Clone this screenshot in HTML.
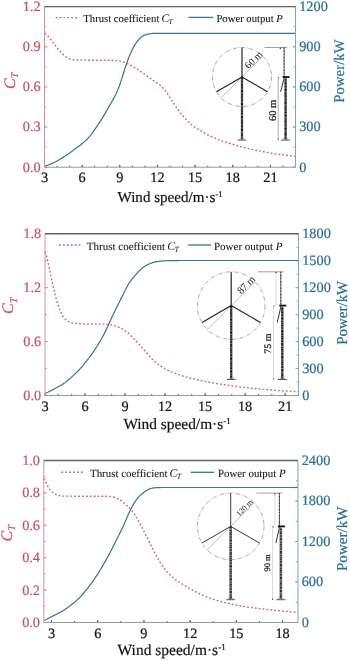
<!DOCTYPE html>
<html><head><meta charset="utf-8"><style>
html,body{margin:0;padding:0;background:#fff;}
body{width:350px;height:661px;overflow:hidden;}
svg{display:block;will-change:transform;filter:blur(0.3px);}
text{font-family:"Liberation Serif",serif;text-rendering:geometricPrecision;}
.b{stroke-width:0.25px;}
</style></head><body>
<svg width="350" height="661" viewBox="0 0 350 661">
<rect width="350" height="661" fill="#fff"/>
<line x1="44.50" y1="167.2" x2="44.50" y2="165.7" stroke="#4a4a4a" stroke-width="0.9"/>
<line x1="57.05" y1="167.2" x2="57.05" y2="165.7" stroke="#4a4a4a" stroke-width="0.9"/>
<line x1="69.60" y1="167.2" x2="69.60" y2="165.7" stroke="#4a4a4a" stroke-width="0.9"/>
<line x1="82.15" y1="167.2" x2="82.15" y2="165.7" stroke="#4a4a4a" stroke-width="0.9"/>
<line x1="94.70" y1="167.2" x2="94.70" y2="165.7" stroke="#4a4a4a" stroke-width="0.9"/>
<line x1="107.25" y1="167.2" x2="107.25" y2="165.7" stroke="#4a4a4a" stroke-width="0.9"/>
<line x1="119.80" y1="167.2" x2="119.80" y2="165.7" stroke="#4a4a4a" stroke-width="0.9"/>
<line x1="132.35" y1="167.2" x2="132.35" y2="165.7" stroke="#4a4a4a" stroke-width="0.9"/>
<line x1="144.90" y1="167.2" x2="144.90" y2="165.7" stroke="#4a4a4a" stroke-width="0.9"/>
<line x1="157.45" y1="167.2" x2="157.45" y2="165.7" stroke="#4a4a4a" stroke-width="0.9"/>
<line x1="170.00" y1="167.2" x2="170.00" y2="165.7" stroke="#4a4a4a" stroke-width="0.9"/>
<line x1="182.55" y1="167.2" x2="182.55" y2="165.7" stroke="#4a4a4a" stroke-width="0.9"/>
<line x1="195.10" y1="167.2" x2="195.10" y2="165.7" stroke="#4a4a4a" stroke-width="0.9"/>
<line x1="207.65" y1="167.2" x2="207.65" y2="165.7" stroke="#4a4a4a" stroke-width="0.9"/>
<line x1="220.20" y1="167.2" x2="220.20" y2="165.7" stroke="#4a4a4a" stroke-width="0.9"/>
<line x1="232.75" y1="167.2" x2="232.75" y2="165.7" stroke="#4a4a4a" stroke-width="0.9"/>
<line x1="245.30" y1="167.2" x2="245.30" y2="165.7" stroke="#4a4a4a" stroke-width="0.9"/>
<line x1="257.85" y1="167.2" x2="257.85" y2="165.7" stroke="#4a4a4a" stroke-width="0.9"/>
<line x1="270.40" y1="167.2" x2="270.40" y2="165.7" stroke="#4a4a4a" stroke-width="0.9"/>
<line x1="282.95" y1="167.2" x2="282.95" y2="165.7" stroke="#4a4a4a" stroke-width="0.9"/>
<line x1="295.50" y1="167.2" x2="295.50" y2="165.7" stroke="#4a4a4a" stroke-width="0.9"/>
<line x1="44.50" y1="167.2" x2="44.50" y2="164.7" stroke="#4a4a4a" stroke-width="0.9"/>
<text x="44.50" y="182.2" font-size="14.3" fill="#111" stroke="#111" stroke-width="0.2" text-anchor="middle">3</text>
<line x1="82.15" y1="167.2" x2="82.15" y2="164.7" stroke="#4a4a4a" stroke-width="0.9"/>
<text x="82.15" y="182.2" font-size="14.3" fill="#111" stroke="#111" stroke-width="0.2" text-anchor="middle">6</text>
<line x1="119.80" y1="167.2" x2="119.80" y2="164.7" stroke="#4a4a4a" stroke-width="0.9"/>
<text x="119.80" y="182.2" font-size="14.3" fill="#111" stroke="#111" stroke-width="0.2" text-anchor="middle">9</text>
<line x1="157.45" y1="167.2" x2="157.45" y2="164.7" stroke="#4a4a4a" stroke-width="0.9"/>
<text x="157.45" y="182.2" font-size="14.3" fill="#111" stroke="#111" stroke-width="0.2" text-anchor="middle">12</text>
<line x1="195.10" y1="167.2" x2="195.10" y2="164.7" stroke="#4a4a4a" stroke-width="0.9"/>
<text x="195.10" y="182.2" font-size="14.3" fill="#111" stroke="#111" stroke-width="0.2" text-anchor="middle">15</text>
<line x1="232.75" y1="167.2" x2="232.75" y2="164.7" stroke="#4a4a4a" stroke-width="0.9"/>
<text x="232.75" y="182.2" font-size="14.3" fill="#111" stroke="#111" stroke-width="0.2" text-anchor="middle">18</text>
<line x1="270.40" y1="167.2" x2="270.40" y2="164.7" stroke="#4a4a4a" stroke-width="0.9"/>
<text x="270.40" y="182.2" font-size="14.3" fill="#111" stroke="#111" stroke-width="0.2" text-anchor="middle">21</text>
<line x1="44.5" y1="167.20" x2="46.5" y2="167.20" stroke="#d68e9e" stroke-width="0.9"/>
<line x1="44.5" y1="147.12" x2="46.5" y2="147.12" stroke="#d68e9e" stroke-width="0.9"/>
<line x1="44.5" y1="127.05" x2="46.5" y2="127.05" stroke="#d68e9e" stroke-width="0.9"/>
<line x1="44.5" y1="106.97" x2="46.5" y2="106.97" stroke="#d68e9e" stroke-width="0.9"/>
<line x1="44.5" y1="86.90" x2="46.5" y2="86.90" stroke="#d68e9e" stroke-width="0.9"/>
<line x1="44.5" y1="66.82" x2="46.5" y2="66.82" stroke="#d68e9e" stroke-width="0.9"/>
<line x1="44.5" y1="46.75" x2="46.5" y2="46.75" stroke="#d68e9e" stroke-width="0.9"/>
<line x1="44.5" y1="26.67" x2="46.5" y2="26.67" stroke="#d68e9e" stroke-width="0.9"/>
<line x1="44.5" y1="6.60" x2="46.5" y2="6.60" stroke="#d68e9e" stroke-width="0.9"/>
<line x1="44.5" y1="167.20" x2="47.5" y2="167.20" stroke="#d68e9e" stroke-width="0.9"/>
<text x="40.70" y="171.60" font-size="14.3" fill="#c65262" stroke="#c65262" stroke-width="0.2" text-anchor="end">0.0</text>
<line x1="44.5" y1="127.05" x2="47.5" y2="127.05" stroke="#d68e9e" stroke-width="0.9"/>
<text x="40.70" y="131.45" font-size="14.3" fill="#c65262" stroke="#c65262" stroke-width="0.2" text-anchor="end">0.3</text>
<line x1="44.5" y1="86.90" x2="47.5" y2="86.90" stroke="#d68e9e" stroke-width="0.9"/>
<text x="40.70" y="91.30" font-size="14.3" fill="#c65262" stroke="#c65262" stroke-width="0.2" text-anchor="end">0.6</text>
<line x1="44.5" y1="46.75" x2="47.5" y2="46.75" stroke="#d68e9e" stroke-width="0.9"/>
<text x="40.70" y="51.15" font-size="14.3" fill="#c65262" stroke="#c65262" stroke-width="0.2" text-anchor="end">0.9</text>
<line x1="44.5" y1="6.60" x2="47.5" y2="6.60" stroke="#d68e9e" stroke-width="0.9"/>
<text x="40.70" y="11.00" font-size="14.3" fill="#c65262" stroke="#c65262" stroke-width="0.2" text-anchor="end">1.2</text>
<line x1="295.5" y1="167.20" x2="293.5" y2="167.20" stroke="#7fa3bd" stroke-width="0.9"/>
<line x1="295.5" y1="147.12" x2="293.5" y2="147.12" stroke="#7fa3bd" stroke-width="0.9"/>
<line x1="295.5" y1="127.05" x2="293.5" y2="127.05" stroke="#7fa3bd" stroke-width="0.9"/>
<line x1="295.5" y1="106.97" x2="293.5" y2="106.97" stroke="#7fa3bd" stroke-width="0.9"/>
<line x1="295.5" y1="86.90" x2="293.5" y2="86.90" stroke="#7fa3bd" stroke-width="0.9"/>
<line x1="295.5" y1="66.82" x2="293.5" y2="66.82" stroke="#7fa3bd" stroke-width="0.9"/>
<line x1="295.5" y1="46.75" x2="293.5" y2="46.75" stroke="#7fa3bd" stroke-width="0.9"/>
<line x1="295.5" y1="26.67" x2="293.5" y2="26.67" stroke="#7fa3bd" stroke-width="0.9"/>
<line x1="295.5" y1="6.60" x2="293.5" y2="6.60" stroke="#7fa3bd" stroke-width="0.9"/>
<line x1="295.5" y1="167.20" x2="292.5" y2="167.20" stroke="#7fa3bd" stroke-width="0.9"/>
<text x="299.20" y="171.60" font-size="14.3" fill="#2a6d93" stroke="#2a6d93" stroke-width="0.2">0</text>
<line x1="295.5" y1="127.05" x2="292.5" y2="127.05" stroke="#7fa3bd" stroke-width="0.9"/>
<text x="299.20" y="131.45" font-size="14.3" fill="#2a6d93" stroke="#2a6d93" stroke-width="0.2">300</text>
<line x1="295.5" y1="86.90" x2="292.5" y2="86.90" stroke="#7fa3bd" stroke-width="0.9"/>
<text x="299.20" y="91.30" font-size="14.3" fill="#2a6d93" stroke="#2a6d93" stroke-width="0.2">600</text>
<line x1="295.5" y1="46.75" x2="292.5" y2="46.75" stroke="#7fa3bd" stroke-width="0.9"/>
<text x="299.20" y="51.15" font-size="14.3" fill="#2a6d93" stroke="#2a6d93" stroke-width="0.2">900</text>
<line x1="295.5" y1="6.60" x2="292.5" y2="6.60" stroke="#7fa3bd" stroke-width="0.9"/>
<text x="299.20" y="11.00" font-size="14.3" fill="#2a6d93" stroke="#2a6d93" stroke-width="0.2">1200</text>
<path d="M44.50,166.06 L45.34,165.88 L46.18,165.67 L47.02,165.42 L47.86,165.13 L48.70,164.80 L49.54,164.47 L50.38,164.13 L51.22,163.77 L52.06,163.41 L52.89,163.03 L53.73,162.64 L54.57,162.24 L55.41,161.81 L56.25,161.37 L57.09,160.90 L57.93,160.42 L58.77,159.93 L59.61,159.43 L60.45,158.92 L61.29,158.41 L62.13,157.89 L62.97,157.37 L63.81,156.84 L64.65,156.31 L65.49,155.78 L66.33,155.24 L67.17,154.69 L68.01,154.13 L68.84,153.55 L69.68,152.96 L70.52,152.36 L71.36,151.74 L72.20,151.11 L73.04,150.47 L73.88,149.84 L74.72,149.21 L75.56,148.58 L76.40,147.97 L77.24,147.36 L78.08,146.75 L78.92,146.15 L79.76,145.53 L80.60,144.90 L81.44,144.25 L82.28,143.57 L83.12,142.87 L83.95,142.13 L84.79,141.36 L85.63,140.57 L86.47,139.74 L87.31,138.89 L88.15,138.00 L88.99,137.07 L89.83,136.10 L90.67,135.08 L91.51,134.02 L92.35,132.92 L93.19,131.78 L94.03,130.61 L94.87,129.42 L95.71,128.19 L96.55,126.95 L97.39,125.70 L98.23,124.44 L99.07,123.17 L99.90,121.88 L100.74,120.57 L101.58,119.24 L102.42,117.88 L103.26,116.49 L104.10,115.07 L104.94,113.63 L105.78,112.17 L106.62,110.70 L107.46,109.23 L108.30,107.77 L109.14,106.31 L109.98,104.86 L110.82,103.43 L111.66,102.00 L112.50,100.56 L113.34,99.09 L114.18,97.56 L115.02,95.94 L115.85,94.25 L116.69,92.48 L117.53,90.60 L118.37,88.55 L119.21,86.31 L120.05,83.93 L120.89,81.42 L121.73,78.83 L122.57,76.18 L123.41,73.48 L124.25,70.76 L125.09,68.06 L125.93,65.45 L126.77,62.97 L127.61,60.61 L128.45,58.38 L129.29,56.27 L130.13,54.27 L130.96,52.39 L131.80,50.61 L132.64,48.94 L133.48,47.37 L134.32,45.89 L135.16,44.49 L136.00,43.17 L136.84,41.93 L137.68,40.80 L138.52,39.77 L139.36,38.85 L140.20,38.01 L141.04,37.27 L141.88,36.63 L142.72,36.08 L143.56,35.62 L144.40,35.23 L145.24,34.91 L146.08,34.63 L146.91,34.38 L147.75,34.17 L148.59,34.00 L149.43,33.85 L150.27,33.72 L151.11,33.62 L151.95,33.54 L152.79,33.47 L153.63,33.42 L154.47,33.38 L155.31,33.35 L156.15,33.32 L156.99,33.31 L157.83,33.30 L158.67,33.30 L159.51,33.30 L160.35,33.30 L161.19,33.30 L162.03,33.30 L162.86,33.30 L163.70,33.30 L164.54,33.30 L165.38,33.30 L166.22,33.30 L167.06,33.30 L167.90,33.30 L168.74,33.30 L169.58,33.30 L170.42,33.30 L171.26,33.30 L172.10,33.30 L172.94,33.30 L173.78,33.30 L174.62,33.30 L175.46,33.30 L176.30,33.30 L177.14,33.30 L177.97,33.30 L178.81,33.30 L179.65,33.30 L180.49,33.30 L181.33,33.30 L182.17,33.30 L183.01,33.30 L183.85,33.30 L184.69,33.30 L185.53,33.30 L186.37,33.30 L187.21,33.30 L188.05,33.30 L188.89,33.30 L189.73,33.30 L190.57,33.30 L191.41,33.30 L192.25,33.30 L193.09,33.30 L193.92,33.30 L194.76,33.30 L195.60,33.30 L196.44,33.30 L197.28,33.30 L198.12,33.30 L198.96,33.30 L199.80,33.30 L200.64,33.30 L201.48,33.30 L202.32,33.30 L203.16,33.30 L204.00,33.30 L204.84,33.30 L205.68,33.30 L206.52,33.30 L207.36,33.30 L208.20,33.30 L209.04,33.30 L209.87,33.30 L210.71,33.30 L211.55,33.30 L212.39,33.30 L213.23,33.30 L214.07,33.30 L214.91,33.30 L215.75,33.30 L216.59,33.30 L217.43,33.30 L218.27,33.30 L219.11,33.30 L219.95,33.30 L220.79,33.30 L221.63,33.30 L222.47,33.30 L223.31,33.30 L224.15,33.30 L224.98,33.30 L225.82,33.30 L226.66,33.30 L227.50,33.30 L228.34,33.30 L229.18,33.30 L230.02,33.30 L230.86,33.30 L231.70,33.30 L232.54,33.30 L233.38,33.30 L234.22,33.30 L235.06,33.30 L235.90,33.30 L236.74,33.30 L237.58,33.30 L238.42,33.30 L239.26,33.30 L240.10,33.30 L240.93,33.30 L241.77,33.30 L242.61,33.30 L243.45,33.30 L244.29,33.30 L245.13,33.30 L245.97,33.30 L246.81,33.30 L247.65,33.30 L248.49,33.30 L249.33,33.30 L250.17,33.30 L251.01,33.30 L251.85,33.30 L252.69,33.30 L253.53,33.30 L254.37,33.30 L255.21,33.30 L256.05,33.30 L256.88,33.30 L257.72,33.30 L258.56,33.30 L259.40,33.30 L260.24,33.30 L261.08,33.30 L261.92,33.30 L262.76,33.30 L263.60,33.30 L264.44,33.30 L265.28,33.30 L266.12,33.30 L266.96,33.30 L267.80,33.30 L268.64,33.30 L269.48,33.30 L270.32,33.30 L271.16,33.30 L271.99,33.30 L272.83,33.30 L273.67,33.30 L274.51,33.30 L275.35,33.30 L276.19,33.30 L277.03,33.30 L277.87,33.30 L278.71,33.30 L279.55,33.30 L280.39,33.30 L281.23,33.30 L282.07,33.30 L282.91,33.30 L283.75,33.30 L284.59,33.30 L285.43,33.30 L286.27,33.30 L287.11,33.30 L287.94,33.30 L288.78,33.30 L289.62,33.30 L290.46,33.30 L291.30,33.30 L292.14,33.30 L292.98,33.30 L293.82,33.30 L294.66,33.30 L295.50,33.30" fill="none" stroke="#337693" stroke-width="1.2"/>
<path d="M44.80,33.16 L45.64,33.75 L46.48,34.44 L47.32,35.26 L48.15,36.19 L48.99,37.24 L49.83,38.29 L50.67,39.36 L51.51,40.45 L52.35,41.54 L53.18,42.64 L54.02,43.75 L54.86,44.86 L55.70,45.95 L56.54,47.04 L57.38,48.11 L58.22,49.16 L59.05,50.17 L59.89,51.14 L60.73,52.06 L61.57,52.94 L62.41,53.77 L63.25,54.55 L64.08,55.29 L64.92,55.97 L65.76,56.59 L66.60,57.14 L67.44,57.63 L68.28,58.07 L69.12,58.45 L69.95,58.79 L70.79,59.07 L71.63,59.30 L72.47,59.49 L73.31,59.63 L74.15,59.75 L74.98,59.85 L75.82,59.92 L76.66,59.98 L77.50,60.02 L78.34,60.05 L79.18,60.08 L80.02,60.10 L80.85,60.11 L81.69,60.13 L82.53,60.14 L83.37,60.15 L84.21,60.16 L85.05,60.17 L85.88,60.18 L86.72,60.18 L87.56,60.19 L88.40,60.19 L89.24,60.20 L90.08,60.20 L90.92,60.20 L91.75,60.20 L92.59,60.20 L93.43,60.20 L94.27,60.20 L95.11,60.20 L95.95,60.20 L96.78,60.20 L97.62,60.20 L98.46,60.20 L99.30,60.20 L100.14,60.20 L100.98,60.20 L101.82,60.20 L102.65,60.20 L103.49,60.20 L104.33,60.20 L105.17,60.20 L106.01,60.20 L106.85,60.20 L107.68,60.20 L108.52,60.21 L109.36,60.21 L110.20,60.23 L111.04,60.25 L111.88,60.28 L112.72,60.31 L113.55,60.36 L114.39,60.42 L115.23,60.48 L116.07,60.56 L116.91,60.65 L117.75,60.74 L118.58,60.86 L119.42,60.99 L120.26,61.16 L121.10,61.34 L121.94,61.57 L122.78,61.82 L123.62,62.10 L124.45,62.42 L125.29,62.77 L126.13,63.14 L126.97,63.53 L127.81,63.93 L128.65,64.34 L129.48,64.76 L130.32,65.19 L131.16,65.64 L132.00,66.09 L132.84,66.56 L133.68,67.04 L134.52,67.53 L135.35,68.04 L136.19,68.56 L137.03,69.09 L137.87,69.62 L138.71,70.17 L139.55,70.72 L140.38,71.28 L141.22,71.85 L142.06,72.43 L142.90,73.01 L143.74,73.60 L144.58,74.20 L145.42,74.81 L146.25,75.42 L147.09,76.03 L147.93,76.65 L148.77,77.26 L149.61,77.87 L150.45,78.48 L151.28,79.07 L152.12,79.66 L152.96,80.24 L153.80,80.81 L154.64,81.37 L155.48,81.94 L156.32,82.50 L157.15,83.08 L157.99,83.67 L158.83,84.28 L159.67,84.93 L160.51,85.61 L161.35,86.36 L162.18,87.17 L163.02,88.05 L163.86,89.00 L164.70,90.02 L165.54,91.10 L166.38,92.24 L167.22,93.44 L168.05,94.68 L168.89,95.96 L169.73,97.25 L170.57,98.56 L171.41,99.86 L172.25,101.15 L173.08,102.45 L173.92,103.73 L174.76,104.99 L175.60,106.24 L176.44,107.45 L177.28,108.63 L178.12,109.79 L178.95,110.93 L179.79,112.04 L180.63,113.12 L181.47,114.18 L182.31,115.21 L183.15,116.21 L183.98,117.20 L184.82,118.16 L185.66,119.10 L186.50,120.01 L187.34,120.89 L188.18,121.74 L189.02,122.55 L189.85,123.33 L190.69,124.06 L191.53,124.76 L192.37,125.41 L193.21,126.03 L194.05,126.61 L194.88,127.18 L195.72,127.72 L196.56,128.26 L197.40,128.79 L198.24,129.31 L199.08,129.83 L199.92,130.34 L200.75,130.86 L201.59,131.36 L202.43,131.86 L203.27,132.36 L204.11,132.84 L204.95,133.32 L205.78,133.78 L206.62,134.24 L207.46,134.68 L208.30,135.11 L209.14,135.53 L209.98,135.94 L210.82,136.34 L211.65,136.74 L212.49,137.12 L213.33,137.49 L214.17,137.86 L215.01,138.22 L215.85,138.57 L216.68,138.91 L217.52,139.24 L218.36,139.57 L219.20,139.89 L220.04,140.20 L220.88,140.50 L221.72,140.80 L222.55,141.09 L223.39,141.38 L224.23,141.66 L225.07,141.93 L225.91,142.21 L226.75,142.48 L227.58,142.74 L228.42,143.00 L229.26,143.27 L230.10,143.52 L230.94,143.78 L231.78,144.03 L232.62,144.29 L233.45,144.53 L234.29,144.78 L235.13,145.02 L235.97,145.27 L236.81,145.50 L237.65,145.74 L238.48,145.98 L239.32,146.21 L240.16,146.44 L241.00,146.67 L241.84,146.90 L242.68,147.13 L243.52,147.35 L244.35,147.58 L245.19,147.80 L246.03,148.02 L246.87,148.23 L247.71,148.44 L248.55,148.64 L249.38,148.84 L250.22,149.03 L251.06,149.21 L251.90,149.40 L252.74,149.57 L253.58,149.74 L254.42,149.91 L255.25,150.08 L256.09,150.24 L256.93,150.40 L257.77,150.57 L258.61,150.73 L259.45,150.90 L260.28,151.07 L261.12,151.24 L261.96,151.41 L262.80,151.58 L263.64,151.75 L264.48,151.92 L265.32,152.09 L266.15,152.26 L266.99,152.43 L267.83,152.59 L268.67,152.74 L269.51,152.90 L270.35,153.04 L271.18,153.19 L272.02,153.33 L272.86,153.46 L273.70,153.59 L274.54,153.72 L275.38,153.85 L276.22,153.97 L277.05,154.09 L277.89,154.21 L278.73,154.32 L279.57,154.44 L280.41,154.55 L281.25,154.66 L282.08,154.77 L282.92,154.88 L283.76,154.98 L284.60,155.09 L285.44,155.19 L286.28,155.29 L287.12,155.39 L287.95,155.49 L288.79,155.59 L289.63,155.68 L290.47,155.77 L291.31,155.87 L292.15,155.96 L292.98,156.03 L293.82,156.10 L294.66,156.16 L295.50,156.21" fill="none" stroke="#d6667e" stroke-width="1.4" stroke-dasharray="1.9 2"/>
<circle cx="242" cy="77" r="29.5" fill="none" stroke="#8f8f8f" stroke-width="0.75" stroke-dasharray="4.2 1.5 0.9 1.5"/>
<line x1="221.14" y1="97.86" x2="262.86" y2="56.14" stroke="#9a9a9a" stroke-width="0.6"/>
<line x1="242" y1="77" x2="242" y2="139.6" stroke="#555" stroke-width="2.3"/>
<line x1="242" y1="77" x2="242" y2="139.6" stroke="#151515" stroke-width="1.80" stroke-dasharray="2.2 1.4 1.2 1.1 2.8 1.5 1.5 1.2" stroke-dashoffset="0"/>
<line x1="242.55" y1="77" x2="242.55" y2="139.6" stroke="#b0b0b0" stroke-width="0.7" stroke-dasharray="0.9 3.4 0.7 2.9 1 4.1" stroke-dashoffset="1.3"/>
<line x1="241.40" y1="77" x2="241.40" y2="139.6" stroke="#a0a0a0" stroke-width="0.6" stroke-dasharray="0.8 4.3 0.7 3.1" stroke-dashoffset="3.1"/>
<path d="M237.7,140.1 L246.3,140.1" stroke="#555" stroke-width="1"/>
<path d="M239.4,138.9 L244.6,138.9" stroke="#888" stroke-width="0.8"/>
<line x1="242" y1="77" x2="242.00" y2="48.09" stroke="#222" stroke-width="1.2" stroke-linecap="round"/>
<line x1="242" y1="77" x2="216.96" y2="91.45" stroke="#222" stroke-width="1.2" stroke-linecap="round"/>
<line x1="242" y1="77" x2="267.04" y2="91.46" stroke="#222" stroke-width="1.2" stroke-linecap="round"/>
<text transform="translate(255.79,62.08) rotate(-45)" text-anchor="middle" font-size="10" fill="#1a1a1a">60 m</text>
<line x1="264.6" y1="47.5" x2="287.1" y2="47.5" stroke="#8a8a8a" stroke-width="0.8"/>
<circle cx="280.3" cy="48.3" r="0.7" fill="#222"/>
<line x1="284.1" y1="47.5" x2="284.1" y2="77" stroke="#6a6a6a" stroke-width="1.1"/>
<line x1="284.1" y1="47.5" x2="284.1" y2="77" stroke="#222" stroke-width="0.9" stroke-dasharray="0.9 2.3 1.3 1.8"/>
<line x1="284.40000000000003" y1="77" x2="280.6" y2="91.75" stroke="#333" stroke-width="1"/>
<line x1="282.6" y1="77" x2="289.6" y2="77" stroke="#111" stroke-width="1.8"/>
<line x1="285.6" y1="78" x2="285.6" y2="139.6" stroke="#555" stroke-width="2.3"/>
<line x1="285.6" y1="78" x2="285.6" y2="139.6" stroke="#151515" stroke-width="1.80" stroke-dasharray="2.2 1.4 1.2 1.1 2.8 1.5 1.5 1.2" stroke-dashoffset="2.2"/>
<line x1="286.15" y1="78" x2="286.15" y2="139.6" stroke="#b0b0b0" stroke-width="0.7" stroke-dasharray="0.9 3.4 0.7 2.9 1 4.1" stroke-dashoffset="3.5"/>
<line x1="285.00" y1="78" x2="285.00" y2="139.6" stroke="#a0a0a0" stroke-width="0.6" stroke-dasharray="0.8 4.3 0.7 3.1" stroke-dashoffset="5.300000000000001"/>
<path d="M281.1,140.1 L290.1,140.1" stroke="#555" stroke-width="1"/>
<path d="M283.0,138.9 L288.20000000000005,138.9" stroke="#888" stroke-width="0.8"/>
<line x1="278.2" y1="78" x2="278.2" y2="139.6" stroke="#8a8a8a" stroke-width="0.7"/>
<circle cx="278.7" cy="77.5" r="0.6" fill="#222"/>
<circle cx="278.2" cy="139.6" r="0.6" fill="#222"/>
<text transform="translate(276,110.4) rotate(-90)" text-anchor="middle" font-size="10.5" fill="#111" stroke="#111" stroke-width="0.2">60 m</text>
<line x1="44.5" y1="6.6" x2="295.5" y2="6.6" stroke="#626262" stroke-width="1.4"/>
<line x1="44.5" y1="167.2" x2="295.5" y2="167.2" stroke="#999" stroke-width="1"/>
<line x1="44.5" y1="6.6" x2="44.5" y2="167.2" stroke="#d68e9e" stroke-width="1"/>
<line x1="295.5" y1="6.6" x2="295.5" y2="167.2" stroke="#7fa3bd" stroke-width="1"/>
<line x1="55.6" y1="17.6" x2="78" y2="17.6" stroke="#d6667e" stroke-width="1.4" stroke-dasharray="1.9 2"/>
<text x="83.3" y="21.5" font-size="10.7" fill="#111" stroke="#111" stroke-width="0.05">Thrust coefficient</text>
<text x="161.5" y="21.5" font-size="11.56" fill="#111" font-style="italic">C</text>
<text x="168.56" y="24.2" font-size="7.70" fill="#111" font-style="italic">T</text>
<line x1="188.6" y1="17.4" x2="213" y2="17.4" stroke="#337693" stroke-width="1.3"/>
<text x="216.4" y="21.5" font-size="10.7" fill="#111" stroke="#111" stroke-width="0.05">Power output <tspan font-style="italic">P</tspan></text>
<text transform="translate(14.8,88.9) rotate(-90)" font-size="16" fill="#c65262" stroke="#c65262" stroke-width="0.2" font-style="italic">C<tspan font-size="10.08" dy="3.6">T</tspan></text>
<text transform="translate(344.1,102.7) rotate(-90)" font-size="14.7" fill="#2a6d93" stroke="#2a6d93" stroke-width="0.2" textLength="63.3" lengthAdjust="spacing">Power/kW</text>
<text x="117.5" y="202.2" font-size="15.1" fill="#111" stroke="#111" stroke-width="0.2">Wind speed/m·s<tspan font-size="8.76" dy="-5.3">-1</tspan></text>
<line x1="45.00" y1="395.5" x2="45.00" y2="394.0" stroke="#4a4a4a" stroke-width="0.9"/>
<line x1="58.34" y1="395.5" x2="58.34" y2="394.0" stroke="#4a4a4a" stroke-width="0.9"/>
<line x1="71.68" y1="395.5" x2="71.68" y2="394.0" stroke="#4a4a4a" stroke-width="0.9"/>
<line x1="85.03" y1="395.5" x2="85.03" y2="394.0" stroke="#4a4a4a" stroke-width="0.9"/>
<line x1="98.37" y1="395.5" x2="98.37" y2="394.0" stroke="#4a4a4a" stroke-width="0.9"/>
<line x1="111.71" y1="395.5" x2="111.71" y2="394.0" stroke="#4a4a4a" stroke-width="0.9"/>
<line x1="125.05" y1="395.5" x2="125.05" y2="394.0" stroke="#4a4a4a" stroke-width="0.9"/>
<line x1="138.39" y1="395.5" x2="138.39" y2="394.0" stroke="#4a4a4a" stroke-width="0.9"/>
<line x1="151.74" y1="395.5" x2="151.74" y2="394.0" stroke="#4a4a4a" stroke-width="0.9"/>
<line x1="165.08" y1="395.5" x2="165.08" y2="394.0" stroke="#4a4a4a" stroke-width="0.9"/>
<line x1="178.42" y1="395.5" x2="178.42" y2="394.0" stroke="#4a4a4a" stroke-width="0.9"/>
<line x1="191.76" y1="395.5" x2="191.76" y2="394.0" stroke="#4a4a4a" stroke-width="0.9"/>
<line x1="205.11" y1="395.5" x2="205.11" y2="394.0" stroke="#4a4a4a" stroke-width="0.9"/>
<line x1="218.45" y1="395.5" x2="218.45" y2="394.0" stroke="#4a4a4a" stroke-width="0.9"/>
<line x1="231.79" y1="395.5" x2="231.79" y2="394.0" stroke="#4a4a4a" stroke-width="0.9"/>
<line x1="245.13" y1="395.5" x2="245.13" y2="394.0" stroke="#4a4a4a" stroke-width="0.9"/>
<line x1="258.47" y1="395.5" x2="258.47" y2="394.0" stroke="#4a4a4a" stroke-width="0.9"/>
<line x1="271.82" y1="395.5" x2="271.82" y2="394.0" stroke="#4a4a4a" stroke-width="0.9"/>
<line x1="285.16" y1="395.5" x2="285.16" y2="394.0" stroke="#4a4a4a" stroke-width="0.9"/>
<line x1="298.50" y1="395.5" x2="298.50" y2="394.0" stroke="#4a4a4a" stroke-width="0.9"/>
<line x1="45.00" y1="395.5" x2="45.00" y2="393.0" stroke="#4a4a4a" stroke-width="0.9"/>
<text x="45.00" y="411.2" font-size="14.3" fill="#111" stroke="#111" stroke-width="0.2" text-anchor="middle">3</text>
<line x1="85.03" y1="395.5" x2="85.03" y2="393.0" stroke="#4a4a4a" stroke-width="0.9"/>
<text x="85.03" y="411.2" font-size="14.3" fill="#111" stroke="#111" stroke-width="0.2" text-anchor="middle">6</text>
<line x1="125.05" y1="395.5" x2="125.05" y2="393.0" stroke="#4a4a4a" stroke-width="0.9"/>
<text x="125.05" y="411.2" font-size="14.3" fill="#111" stroke="#111" stroke-width="0.2" text-anchor="middle">9</text>
<line x1="165.08" y1="395.5" x2="165.08" y2="393.0" stroke="#4a4a4a" stroke-width="0.9"/>
<text x="165.08" y="411.2" font-size="14.3" fill="#111" stroke="#111" stroke-width="0.2" text-anchor="middle">12</text>
<line x1="205.11" y1="395.5" x2="205.11" y2="393.0" stroke="#4a4a4a" stroke-width="0.9"/>
<text x="205.11" y="411.2" font-size="14.3" fill="#111" stroke="#111" stroke-width="0.2" text-anchor="middle">15</text>
<line x1="245.13" y1="395.5" x2="245.13" y2="393.0" stroke="#4a4a4a" stroke-width="0.9"/>
<text x="245.13" y="411.2" font-size="14.3" fill="#111" stroke="#111" stroke-width="0.2" text-anchor="middle">18</text>
<line x1="285.16" y1="395.5" x2="285.16" y2="393.0" stroke="#4a4a4a" stroke-width="0.9"/>
<text x="285.16" y="411.2" font-size="14.3" fill="#111" stroke="#111" stroke-width="0.2" text-anchor="middle">21</text>
<line x1="45" y1="395.50" x2="47" y2="395.50" stroke="#d68e9e" stroke-width="0.9"/>
<line x1="45" y1="368.54" x2="47" y2="368.54" stroke="#d68e9e" stroke-width="0.9"/>
<line x1="45" y1="341.58" x2="47" y2="341.58" stroke="#d68e9e" stroke-width="0.9"/>
<line x1="45" y1="314.62" x2="47" y2="314.62" stroke="#d68e9e" stroke-width="0.9"/>
<line x1="45" y1="287.67" x2="47" y2="287.67" stroke="#d68e9e" stroke-width="0.9"/>
<line x1="45" y1="260.71" x2="47" y2="260.71" stroke="#d68e9e" stroke-width="0.9"/>
<line x1="45" y1="233.75" x2="47" y2="233.75" stroke="#d68e9e" stroke-width="0.9"/>
<line x1="45" y1="395.50" x2="48" y2="395.50" stroke="#d68e9e" stroke-width="0.9"/>
<text x="41.20" y="399.90" font-size="14.3" fill="#c65262" stroke="#c65262" stroke-width="0.2" text-anchor="end">0.0</text>
<line x1="45" y1="341.58" x2="48" y2="341.58" stroke="#d68e9e" stroke-width="0.9"/>
<text x="41.20" y="345.98" font-size="14.3" fill="#c65262" stroke="#c65262" stroke-width="0.2" text-anchor="end">0.6</text>
<line x1="45" y1="287.67" x2="48" y2="287.67" stroke="#d68e9e" stroke-width="0.9"/>
<text x="41.20" y="292.07" font-size="14.3" fill="#c65262" stroke="#c65262" stroke-width="0.2" text-anchor="end">1.2</text>
<line x1="45" y1="233.75" x2="48" y2="233.75" stroke="#d68e9e" stroke-width="0.9"/>
<text x="41.20" y="238.15" font-size="14.3" fill="#c65262" stroke="#c65262" stroke-width="0.2" text-anchor="end">1.8</text>
<line x1="298.5" y1="395.50" x2="296.5" y2="395.50" stroke="#7fa3bd" stroke-width="0.9"/>
<line x1="298.5" y1="382.02" x2="296.5" y2="382.02" stroke="#7fa3bd" stroke-width="0.9"/>
<line x1="298.5" y1="368.54" x2="296.5" y2="368.54" stroke="#7fa3bd" stroke-width="0.9"/>
<line x1="298.5" y1="355.06" x2="296.5" y2="355.06" stroke="#7fa3bd" stroke-width="0.9"/>
<line x1="298.5" y1="341.58" x2="296.5" y2="341.58" stroke="#7fa3bd" stroke-width="0.9"/>
<line x1="298.5" y1="328.10" x2="296.5" y2="328.10" stroke="#7fa3bd" stroke-width="0.9"/>
<line x1="298.5" y1="314.62" x2="296.5" y2="314.62" stroke="#7fa3bd" stroke-width="0.9"/>
<line x1="298.5" y1="301.15" x2="296.5" y2="301.15" stroke="#7fa3bd" stroke-width="0.9"/>
<line x1="298.5" y1="287.67" x2="296.5" y2="287.67" stroke="#7fa3bd" stroke-width="0.9"/>
<line x1="298.5" y1="274.19" x2="296.5" y2="274.19" stroke="#7fa3bd" stroke-width="0.9"/>
<line x1="298.5" y1="260.71" x2="296.5" y2="260.71" stroke="#7fa3bd" stroke-width="0.9"/>
<line x1="298.5" y1="247.23" x2="296.5" y2="247.23" stroke="#7fa3bd" stroke-width="0.9"/>
<line x1="298.5" y1="233.75" x2="296.5" y2="233.75" stroke="#7fa3bd" stroke-width="0.9"/>
<line x1="298.5" y1="395.50" x2="295.5" y2="395.50" stroke="#7fa3bd" stroke-width="0.9"/>
<text x="302.20" y="399.90" font-size="14.3" fill="#2a6d93" stroke="#2a6d93" stroke-width="0.2">0</text>
<line x1="298.5" y1="368.54" x2="295.5" y2="368.54" stroke="#7fa3bd" stroke-width="0.9"/>
<text x="302.20" y="372.94" font-size="14.3" fill="#2a6d93" stroke="#2a6d93" stroke-width="0.2">300</text>
<line x1="298.5" y1="341.58" x2="295.5" y2="341.58" stroke="#7fa3bd" stroke-width="0.9"/>
<text x="302.20" y="345.98" font-size="14.3" fill="#2a6d93" stroke="#2a6d93" stroke-width="0.2">600</text>
<line x1="298.5" y1="314.62" x2="295.5" y2="314.62" stroke="#7fa3bd" stroke-width="0.9"/>
<text x="302.20" y="319.02" font-size="14.3" fill="#2a6d93" stroke="#2a6d93" stroke-width="0.2">900</text>
<line x1="298.5" y1="287.67" x2="295.5" y2="287.67" stroke="#7fa3bd" stroke-width="0.9"/>
<text x="302.20" y="292.07" font-size="14.3" fill="#2a6d93" stroke="#2a6d93" stroke-width="0.2">1200</text>
<line x1="298.5" y1="260.71" x2="295.5" y2="260.71" stroke="#7fa3bd" stroke-width="0.9"/>
<text x="302.20" y="265.11" font-size="14.3" fill="#2a6d93" stroke="#2a6d93" stroke-width="0.2">1500</text>
<line x1="298.5" y1="233.75" x2="295.5" y2="233.75" stroke="#7fa3bd" stroke-width="0.9"/>
<text x="302.20" y="238.15" font-size="14.3" fill="#2a6d93" stroke="#2a6d93" stroke-width="0.2">1800</text>
<path d="M45.00,393.08 L45.85,392.87 L46.70,392.61 L47.54,392.30 L48.39,391.94 L49.24,391.54 L50.09,391.12 L50.93,390.69 L51.78,390.25 L52.63,389.81 L53.48,389.36 L54.33,388.91 L55.17,388.46 L56.02,388.00 L56.87,387.55 L57.72,387.09 L58.57,386.63 L59.41,386.16 L60.26,385.68 L61.11,385.18 L61.96,384.66 L62.80,384.13 L63.65,383.57 L64.50,382.99 L65.35,382.38 L66.20,381.74 L67.04,381.08 L67.89,380.38 L68.74,379.67 L69.59,378.93 L70.43,378.17 L71.28,377.40 L72.13,376.62 L72.98,375.83 L73.83,375.03 L74.67,374.22 L75.52,373.41 L76.37,372.59 L77.22,371.75 L78.07,370.90 L78.91,370.03 L79.76,369.13 L80.61,368.21 L81.46,367.27 L82.30,366.29 L83.15,365.30 L84.00,364.27 L84.85,363.23 L85.70,362.17 L86.54,361.08 L87.39,359.99 L88.24,358.88 L89.09,357.76 L89.93,356.62 L90.78,355.47 L91.63,354.29 L92.48,353.10 L93.33,351.88 L94.17,350.63 L95.02,349.36 L95.87,348.07 L96.72,346.75 L97.57,345.41 L98.41,344.05 L99.26,342.66 L100.11,341.25 L100.96,339.81 L101.80,338.32 L102.65,336.79 L103.50,335.20 L104.35,333.56 L105.20,331.87 L106.04,330.12 L106.89,328.32 L107.74,326.47 L108.59,324.60 L109.43,322.71 L110.28,320.83 L111.13,318.95 L111.98,317.09 L112.83,315.24 L113.67,313.42 L114.52,311.64 L115.37,309.91 L116.22,308.21 L117.07,306.53 L117.91,304.87 L118.76,303.20 L119.61,301.52 L120.46,299.83 L121.30,298.14 L122.15,296.42 L123.00,294.69 L123.85,292.95 L124.70,291.23 L125.54,289.55 L126.39,287.93 L127.24,286.37 L128.09,284.90 L128.93,283.50 L129.78,282.20 L130.63,280.98 L131.48,279.82 L132.33,278.73 L133.17,277.68 L134.02,276.69 L134.87,275.72 L135.72,274.77 L136.57,273.82 L137.41,272.88 L138.26,271.96 L139.11,271.08 L139.96,270.22 L140.80,269.41 L141.65,268.64 L142.50,267.91 L143.35,267.25 L144.20,266.64 L145.04,266.10 L145.89,265.59 L146.74,265.12 L147.59,264.68 L148.43,264.27 L149.28,263.88 L150.13,263.53 L150.98,263.20 L151.83,262.90 L152.67,262.62 L153.52,262.38 L154.37,262.15 L155.22,261.96 L156.07,261.79 L156.91,261.64 L157.76,261.50 L158.61,261.39 L159.46,261.28 L160.30,261.19 L161.15,261.11 L162.00,261.03 L162.85,260.97 L163.70,260.91 L164.54,260.85 L165.39,260.80 L166.24,260.75 L167.09,260.71 L167.93,260.68 L168.78,260.65 L169.63,260.63 L170.48,260.61 L171.33,260.59 L172.17,260.58 L173.02,260.57 L173.87,260.56 L174.72,260.55 L175.57,260.55 L176.41,260.54 L177.26,260.53 L178.11,260.53 L178.96,260.52 L179.80,260.52 L180.65,260.51 L181.50,260.51 L182.35,260.51 L183.20,260.50 L184.04,260.50 L184.89,260.50 L185.74,260.50 L186.59,260.50 L187.43,260.50 L188.28,260.50 L189.13,260.50 L189.98,260.50 L190.83,260.50 L191.67,260.50 L192.52,260.50 L193.37,260.50 L194.22,260.50 L195.07,260.50 L195.91,260.50 L196.76,260.50 L197.61,260.50 L198.46,260.50 L199.30,260.50 L200.15,260.50 L201.00,260.50 L201.85,260.50 L202.70,260.50 L203.54,260.50 L204.39,260.50 L205.24,260.50 L206.09,260.50 L206.93,260.50 L207.78,260.50 L208.63,260.50 L209.48,260.50 L210.33,260.50 L211.17,260.50 L212.02,260.50 L212.87,260.50 L213.72,260.50 L214.57,260.50 L215.41,260.50 L216.26,260.50 L217.11,260.50 L217.96,260.50 L218.80,260.50 L219.65,260.50 L220.50,260.50 L221.35,260.50 L222.20,260.50 L223.04,260.50 L223.89,260.50 L224.74,260.50 L225.59,260.50 L226.43,260.50 L227.28,260.50 L228.13,260.50 L228.98,260.50 L229.83,260.50 L230.67,260.50 L231.52,260.50 L232.37,260.50 L233.22,260.50 L234.07,260.50 L234.91,260.50 L235.76,260.50 L236.61,260.50 L237.46,260.50 L238.30,260.50 L239.15,260.50 L240.00,260.50 L240.85,260.50 L241.70,260.50 L242.54,260.50 L243.39,260.50 L244.24,260.50 L245.09,260.50 L245.93,260.50 L246.78,260.50 L247.63,260.50 L248.48,260.50 L249.33,260.50 L250.17,260.50 L251.02,260.50 L251.87,260.50 L252.72,260.50 L253.57,260.50 L254.41,260.50 L255.26,260.50 L256.11,260.50 L256.96,260.50 L257.80,260.50 L258.65,260.50 L259.50,260.50 L260.35,260.50 L261.20,260.50 L262.04,260.50 L262.89,260.50 L263.74,260.50 L264.59,260.50 L265.43,260.50 L266.28,260.50 L267.13,260.50 L267.98,260.50 L268.83,260.50 L269.67,260.50 L270.52,260.50 L271.37,260.50 L272.22,260.50 L273.07,260.50 L273.91,260.50 L274.76,260.50 L275.61,260.50 L276.46,260.50 L277.30,260.50 L278.15,260.50 L279.00,260.50 L279.85,260.50 L280.70,260.50 L281.54,260.50 L282.39,260.50 L283.24,260.50 L284.09,260.50 L284.93,260.50 L285.78,260.50 L286.63,260.50 L287.48,260.50 L288.33,260.50 L289.17,260.50 L290.02,260.50 L290.87,260.50 L291.72,260.50 L292.57,260.50 L293.41,260.50 L294.26,260.50 L295.11,260.50 L295.96,260.50 L296.80,260.50 L297.65,260.50 L298.50,260.50" fill="none" stroke="#337693" stroke-width="1.2"/>
<path d="M45.00,251.87 L45.85,254.09 L46.70,256.81 L47.54,260.05 L48.39,263.78 L49.24,267.96 L50.09,272.09 L50.93,276.16 L51.78,280.14 L52.63,284.05 L53.48,287.86 L54.33,291.49 L55.17,294.88 L56.02,298.07 L56.87,301.06 L57.72,303.84 L58.57,306.41 L59.41,308.77 L60.26,310.92 L61.11,312.85 L61.96,314.57 L62.80,316.06 L63.65,317.33 L64.50,318.40 L65.35,319.32 L66.20,320.10 L67.04,320.74 L67.89,321.27 L68.74,321.70 L69.59,322.06 L70.43,322.37 L71.28,322.62 L72.13,322.84 L72.98,323.01 L73.83,323.16 L74.67,323.28 L75.52,323.39 L76.37,323.49 L77.22,323.57 L78.07,323.64 L78.91,323.70 L79.76,323.75 L80.61,323.80 L81.46,323.83 L82.30,323.86 L83.15,323.88 L84.00,323.90 L84.85,323.92 L85.70,323.94 L86.54,323.95 L87.39,323.96 L88.24,323.98 L89.09,323.99 L89.93,323.99 L90.78,324.00 L91.63,324.01 L92.48,324.02 L93.33,324.03 L94.17,324.03 L95.02,324.04 L95.87,324.05 L96.72,324.05 L97.57,324.06 L98.41,324.07 L99.26,324.08 L100.11,324.09 L100.96,324.11 L101.80,324.12 L102.65,324.14 L103.50,324.15 L104.35,324.17 L105.20,324.20 L106.04,324.22 L106.89,324.27 L107.74,324.33 L108.59,324.42 L109.43,324.54 L110.28,324.69 L111.13,324.86 L111.98,325.06 L112.83,325.29 L113.67,325.54 L114.52,325.80 L115.37,326.07 L116.22,326.34 L117.07,326.63 L117.91,326.93 L118.76,327.25 L119.61,327.60 L120.46,327.98 L121.30,328.40 L122.15,328.86 L123.00,329.36 L123.85,329.90 L124.70,330.48 L125.54,331.09 L126.39,331.73 L127.24,332.40 L128.09,333.10 L128.93,333.82 L129.78,334.57 L130.63,335.35 L131.48,336.16 L132.33,336.99 L133.17,337.84 L134.02,338.71 L134.87,339.61 L135.72,340.52 L136.57,341.45 L137.41,342.40 L138.26,343.35 L139.11,344.31 L139.96,345.27 L140.80,346.23 L141.65,347.19 L142.50,348.16 L143.35,349.13 L144.20,350.11 L145.04,351.08 L145.89,352.07 L146.74,353.05 L147.59,354.03 L148.43,355.01 L149.28,355.97 L150.13,356.91 L150.98,357.82 L151.83,358.70 L152.67,359.55 L153.52,360.36 L154.37,361.14 L155.22,361.89 L156.07,362.60 L156.91,363.29 L157.76,363.95 L158.61,364.60 L159.46,365.22 L160.30,365.82 L161.15,366.40 L162.00,366.95 L162.85,367.49 L163.70,368.00 L164.54,368.49 L165.39,368.96 L166.24,369.41 L167.09,369.85 L167.93,370.26 L168.78,370.66 L169.63,371.04 L170.48,371.41 L171.33,371.77 L172.17,372.11 L173.02,372.45 L173.87,372.78 L174.72,373.11 L175.57,373.42 L176.41,373.74 L177.26,374.05 L178.11,374.35 L178.96,374.65 L179.80,374.94 L180.65,375.24 L181.50,375.52 L182.35,375.80 L183.20,376.07 L184.04,376.34 L184.89,376.60 L185.74,376.86 L186.59,377.11 L187.43,377.35 L188.28,377.59 L189.13,377.82 L189.98,378.05 L190.83,378.27 L191.67,378.49 L192.52,378.70 L193.37,378.91 L194.22,379.11 L195.07,379.31 L195.91,379.50 L196.76,379.69 L197.61,379.88 L198.46,380.06 L199.30,380.25 L200.15,380.42 L201.00,380.60 L201.85,380.78 L202.70,380.95 L203.54,381.12 L204.39,381.29 L205.24,381.46 L206.09,381.62 L206.93,381.79 L207.78,381.95 L208.63,382.11 L209.48,382.27 L210.33,382.42 L211.17,382.58 L212.02,382.73 L212.87,382.88 L213.72,383.03 L214.57,383.18 L215.41,383.32 L216.26,383.47 L217.11,383.61 L217.96,383.75 L218.80,383.89 L219.65,384.02 L220.50,384.15 L221.35,384.29 L222.20,384.42 L223.04,384.55 L223.89,384.68 L224.74,384.80 L225.59,384.93 L226.43,385.05 L227.28,385.18 L228.13,385.30 L228.98,385.42 L229.83,385.54 L230.67,385.66 L231.52,385.78 L232.37,385.90 L233.22,386.02 L234.07,386.14 L234.91,386.25 L235.76,386.36 L236.61,386.48 L237.46,386.59 L238.30,386.70 L239.15,386.81 L240.00,386.91 L240.85,387.02 L241.70,387.13 L242.54,387.23 L243.39,387.33 L244.24,387.44 L245.09,387.54 L245.93,387.63 L246.78,387.73 L247.63,387.83 L248.48,387.92 L249.33,388.02 L250.17,388.11 L251.02,388.20 L251.87,388.29 L252.72,388.38 L253.57,388.46 L254.41,388.55 L255.26,388.63 L256.11,388.72 L256.96,388.80 L257.80,388.88 L258.65,388.96 L259.50,389.03 L260.35,389.11 L261.20,389.19 L262.04,389.26 L262.89,389.34 L263.74,389.41 L264.59,389.48 L265.43,389.55 L266.28,389.62 L267.13,389.69 L267.98,389.76 L268.83,389.83 L269.67,389.89 L270.52,389.96 L271.37,390.03 L272.22,390.09 L273.07,390.15 L273.91,390.22 L274.76,390.28 L275.61,390.34 L276.46,390.40 L277.30,390.47 L278.15,390.53 L279.00,390.59 L279.85,390.65 L280.70,390.70 L281.54,390.76 L282.39,390.82 L283.24,390.88 L284.09,390.94 L284.93,390.99 L285.78,391.05 L286.63,391.10 L287.48,391.16 L288.33,391.21 L289.17,391.26 L290.02,391.31 L290.87,391.37 L291.72,391.42 L292.57,391.47 L293.41,391.52 L294.26,391.57 L295.11,391.61 L295.96,391.66 L296.80,391.69 L297.65,391.72 L298.50,391.75" fill="none" stroke="#d6667e" stroke-width="1.4" stroke-dasharray="1.9 2"/>
<circle cx="231.2" cy="305.6" r="33.8" fill="none" stroke="#8f8f8f" stroke-width="0.75" stroke-dasharray="4.2 1.5 0.9 1.5"/>
<line x1="207.30" y1="329.50" x2="255.10" y2="281.70" stroke="#9a9a9a" stroke-width="0.6"/>
<line x1="231.2" y1="305.6" x2="231.2" y2="379" stroke="#555" stroke-width="2.3"/>
<line x1="231.2" y1="305.6" x2="231.2" y2="379" stroke="#151515" stroke-width="1.80" stroke-dasharray="2.2 1.4 1.2 1.1 2.8 1.5 1.5 1.2" stroke-dashoffset="0"/>
<line x1="231.75" y1="305.6" x2="231.75" y2="379" stroke="#b0b0b0" stroke-width="0.7" stroke-dasharray="0.9 3.4 0.7 2.9 1 4.1" stroke-dashoffset="1.3"/>
<line x1="230.60" y1="305.6" x2="230.60" y2="379" stroke="#a0a0a0" stroke-width="0.6" stroke-dasharray="0.8 4.3 0.7 3.1" stroke-dashoffset="3.1"/>
<path d="M226.89999999999998,379.5 L235.5,379.5" stroke="#555" stroke-width="1"/>
<path d="M228.6,378.3 L233.79999999999998,378.3" stroke="#888" stroke-width="0.8"/>
<line x1="231.2" y1="305.6" x2="231.20" y2="272.48" stroke="#222" stroke-width="1.2" stroke-linecap="round"/>
<line x1="231.2" y1="305.6" x2="202.51" y2="322.16" stroke="#222" stroke-width="1.2" stroke-linecap="round"/>
<line x1="231.2" y1="305.6" x2="259.89" y2="322.16" stroke="#222" stroke-width="1.2" stroke-linecap="round"/>
<text transform="translate(248.52,287.14) rotate(-45)" text-anchor="middle" font-size="10.3" fill="#1a1a1a">87 m</text>
<line x1="257.9" y1="271.8" x2="283.8" y2="271.8" stroke="#8a8a8a" stroke-width="0.8"/>
<line x1="276" y1="271.8" x2="276" y2="305.6" stroke="#c4c4c4" stroke-width="0.6"/>
<circle cx="276" cy="272.6" r="0.7" fill="#222"/>
<line x1="280.8" y1="271.8" x2="280.8" y2="305.6" stroke="#6a6a6a" stroke-width="1.1"/>
<line x1="280.8" y1="271.8" x2="280.8" y2="305.6" stroke="#222" stroke-width="0.9" stroke-dasharray="0.9 2.3 1.3 1.8"/>
<line x1="281.1" y1="305.6" x2="277.3" y2="322.50" stroke="#333" stroke-width="1"/>
<line x1="279.3" y1="305.6" x2="286.3" y2="305.6" stroke="#111" stroke-width="1.8"/>
<line x1="282.3" y1="306.6" x2="282.3" y2="379" stroke="#555" stroke-width="2.3"/>
<line x1="282.3" y1="306.6" x2="282.3" y2="379" stroke="#151515" stroke-width="1.80" stroke-dasharray="2.2 1.4 1.2 1.1 2.8 1.5 1.5 1.2" stroke-dashoffset="2.2"/>
<line x1="282.85" y1="306.6" x2="282.85" y2="379" stroke="#b0b0b0" stroke-width="0.7" stroke-dasharray="0.9 3.4 0.7 2.9 1 4.1" stroke-dashoffset="3.5"/>
<line x1="281.70" y1="306.6" x2="281.70" y2="379" stroke="#a0a0a0" stroke-width="0.6" stroke-dasharray="0.8 4.3 0.7 3.1" stroke-dashoffset="5.300000000000001"/>
<path d="M277.8,379.5 L286.8,379.5" stroke="#555" stroke-width="1"/>
<path d="M279.7,378.3 L284.90000000000003,378.3" stroke="#888" stroke-width="0.8"/>
<line x1="273.5" y1="306.6" x2="273.5" y2="379" stroke="#c8c8c8" stroke-width="0.7"/>
<circle cx="274.0" cy="306.1" r="0.6" fill="#222"/>
<circle cx="273.5" cy="379" r="0.6" fill="#222"/>
<text transform="translate(271,343.5) rotate(-90)" text-anchor="middle" font-size="10" fill="#111" stroke="#111" stroke-width="0.2">75 m</text>
<line x1="45" y1="233.75" x2="298.5" y2="233.75" stroke="#626262" stroke-width="1.4"/>
<line x1="45" y1="395.5" x2="298.5" y2="395.5" stroke="#999" stroke-width="1"/>
<line x1="45" y1="233.75" x2="45" y2="395.5" stroke="#d68e9e" stroke-width="1"/>
<line x1="298.5" y1="233.75" x2="298.5" y2="395.5" stroke="#7fa3bd" stroke-width="1"/>
<line x1="59" y1="245" x2="81" y2="245" stroke="#d6667e" stroke-width="1.4" stroke-dasharray="1.9 2"/>
<text x="86.8" y="249.5" font-size="11" fill="#111" stroke="#111" stroke-width="0.05">Thrust coefficient</text>
<text x="167.3" y="249.5" font-size="11.88" fill="#111" font-style="italic">C</text>
<text x="174.56" y="252.2" font-size="7.92" fill="#111" font-style="italic">T</text>
<line x1="188.1" y1="245" x2="211" y2="245" stroke="#337693" stroke-width="1.3"/>
<text x="214" y="249.5" font-size="11" fill="#111" stroke="#111" stroke-width="0.05">Power output <tspan font-style="italic">P</tspan></text>
<text transform="translate(13.1,313.9) rotate(-90)" font-size="16" fill="#c65262" stroke="#c65262" stroke-width="0.2" font-style="italic">C<tspan font-size="10.08" dy="3.6">T</tspan></text>
<text transform="translate(346.9,344.8) rotate(-90)" font-size="15" fill="#2a6d93" stroke="#2a6d93" stroke-width="0.2" textLength="64.1" lengthAdjust="spacing">Power/kW</text>
<text x="123.4" y="429.3" font-size="15.4" fill="#111" stroke="#111" stroke-width="0.2">Wind speed/m·s<tspan font-size="8.93" dy="-5.3">-1</tspan></text>
<line x1="51.50" y1="622.5" x2="51.50" y2="621.0" stroke="#4a4a4a" stroke-width="0.9"/>
<line x1="74.61" y1="622.5" x2="74.61" y2="621.0" stroke="#4a4a4a" stroke-width="0.9"/>
<line x1="97.72" y1="622.5" x2="97.72" y2="621.0" stroke="#4a4a4a" stroke-width="0.9"/>
<line x1="120.83" y1="622.5" x2="120.83" y2="621.0" stroke="#4a4a4a" stroke-width="0.9"/>
<line x1="143.94" y1="622.5" x2="143.94" y2="621.0" stroke="#4a4a4a" stroke-width="0.9"/>
<line x1="167.05" y1="622.5" x2="167.05" y2="621.0" stroke="#4a4a4a" stroke-width="0.9"/>
<line x1="190.16" y1="622.5" x2="190.16" y2="621.0" stroke="#4a4a4a" stroke-width="0.9"/>
<line x1="213.27" y1="622.5" x2="213.27" y2="621.0" stroke="#4a4a4a" stroke-width="0.9"/>
<line x1="236.38" y1="622.5" x2="236.38" y2="621.0" stroke="#4a4a4a" stroke-width="0.9"/>
<line x1="259.48" y1="622.5" x2="259.48" y2="621.0" stroke="#4a4a4a" stroke-width="0.9"/>
<line x1="282.59" y1="622.5" x2="282.59" y2="621.0" stroke="#4a4a4a" stroke-width="0.9"/>
<line x1="51.50" y1="622.5" x2="51.50" y2="620.0" stroke="#4a4a4a" stroke-width="0.9"/>
<text x="51.50" y="638.2" font-size="14.3" fill="#111" stroke="#111" stroke-width="0.2" text-anchor="middle">3</text>
<line x1="97.72" y1="622.5" x2="97.72" y2="620.0" stroke="#4a4a4a" stroke-width="0.9"/>
<text x="97.72" y="638.2" font-size="14.3" fill="#111" stroke="#111" stroke-width="0.2" text-anchor="middle">6</text>
<line x1="143.94" y1="622.5" x2="143.94" y2="620.0" stroke="#4a4a4a" stroke-width="0.9"/>
<text x="143.94" y="638.2" font-size="14.3" fill="#111" stroke="#111" stroke-width="0.2" text-anchor="middle">9</text>
<line x1="190.16" y1="622.5" x2="190.16" y2="620.0" stroke="#4a4a4a" stroke-width="0.9"/>
<text x="190.16" y="638.2" font-size="14.3" fill="#111" stroke="#111" stroke-width="0.2" text-anchor="middle">12</text>
<line x1="236.38" y1="622.5" x2="236.38" y2="620.0" stroke="#4a4a4a" stroke-width="0.9"/>
<text x="236.38" y="638.2" font-size="14.3" fill="#111" stroke="#111" stroke-width="0.2" text-anchor="middle">15</text>
<line x1="282.59" y1="622.5" x2="282.59" y2="620.0" stroke="#4a4a4a" stroke-width="0.9"/>
<text x="282.59" y="638.2" font-size="14.3" fill="#111" stroke="#111" stroke-width="0.2" text-anchor="middle">18</text>
<line x1="43.8" y1="622.50" x2="45.8" y2="622.50" stroke="#d68e9e" stroke-width="0.9"/>
<line x1="43.8" y1="606.30" x2="45.8" y2="606.30" stroke="#d68e9e" stroke-width="0.9"/>
<line x1="43.8" y1="590.10" x2="45.8" y2="590.10" stroke="#d68e9e" stroke-width="0.9"/>
<line x1="43.8" y1="573.90" x2="45.8" y2="573.90" stroke="#d68e9e" stroke-width="0.9"/>
<line x1="43.8" y1="557.70" x2="45.8" y2="557.70" stroke="#d68e9e" stroke-width="0.9"/>
<line x1="43.8" y1="541.50" x2="45.8" y2="541.50" stroke="#d68e9e" stroke-width="0.9"/>
<line x1="43.8" y1="525.30" x2="45.8" y2="525.30" stroke="#d68e9e" stroke-width="0.9"/>
<line x1="43.8" y1="509.10" x2="45.8" y2="509.10" stroke="#d68e9e" stroke-width="0.9"/>
<line x1="43.8" y1="492.90" x2="45.8" y2="492.90" stroke="#d68e9e" stroke-width="0.9"/>
<line x1="43.8" y1="476.70" x2="45.8" y2="476.70" stroke="#d68e9e" stroke-width="0.9"/>
<line x1="43.8" y1="460.50" x2="45.8" y2="460.50" stroke="#d68e9e" stroke-width="0.9"/>
<line x1="43.8" y1="622.50" x2="46.8" y2="622.50" stroke="#d68e9e" stroke-width="0.9"/>
<text x="40.00" y="626.90" font-size="14.3" fill="#c65262" stroke="#c65262" stroke-width="0.2" text-anchor="end">0.0</text>
<line x1="43.8" y1="590.10" x2="46.8" y2="590.10" stroke="#d68e9e" stroke-width="0.9"/>
<text x="40.00" y="594.50" font-size="14.3" fill="#c65262" stroke="#c65262" stroke-width="0.2" text-anchor="end">0.2</text>
<line x1="43.8" y1="557.70" x2="46.8" y2="557.70" stroke="#d68e9e" stroke-width="0.9"/>
<text x="40.00" y="562.10" font-size="14.3" fill="#c65262" stroke="#c65262" stroke-width="0.2" text-anchor="end">0.4</text>
<line x1="43.8" y1="525.30" x2="46.8" y2="525.30" stroke="#d68e9e" stroke-width="0.9"/>
<text x="40.00" y="529.70" font-size="14.3" fill="#c65262" stroke="#c65262" stroke-width="0.2" text-anchor="end">0.6</text>
<line x1="43.8" y1="492.90" x2="46.8" y2="492.90" stroke="#d68e9e" stroke-width="0.9"/>
<text x="40.00" y="497.30" font-size="14.3" fill="#c65262" stroke="#c65262" stroke-width="0.2" text-anchor="end">0.8</text>
<line x1="43.8" y1="460.50" x2="46.8" y2="460.50" stroke="#d68e9e" stroke-width="0.9"/>
<text x="40.00" y="464.90" font-size="14.3" fill="#c65262" stroke="#c65262" stroke-width="0.2" text-anchor="end">1.0</text>
<line x1="298" y1="622.50" x2="296" y2="622.50" stroke="#7fa3bd" stroke-width="0.9"/>
<line x1="298" y1="602.25" x2="296" y2="602.25" stroke="#7fa3bd" stroke-width="0.9"/>
<line x1="298" y1="582.00" x2="296" y2="582.00" stroke="#7fa3bd" stroke-width="0.9"/>
<line x1="298" y1="561.75" x2="296" y2="561.75" stroke="#7fa3bd" stroke-width="0.9"/>
<line x1="298" y1="541.50" x2="296" y2="541.50" stroke="#7fa3bd" stroke-width="0.9"/>
<line x1="298" y1="521.25" x2="296" y2="521.25" stroke="#7fa3bd" stroke-width="0.9"/>
<line x1="298" y1="501.00" x2="296" y2="501.00" stroke="#7fa3bd" stroke-width="0.9"/>
<line x1="298" y1="480.75" x2="296" y2="480.75" stroke="#7fa3bd" stroke-width="0.9"/>
<line x1="298" y1="460.50" x2="296" y2="460.50" stroke="#7fa3bd" stroke-width="0.9"/>
<line x1="298" y1="622.50" x2="295" y2="622.50" stroke="#7fa3bd" stroke-width="0.9"/>
<text x="301.70" y="626.90" font-size="14.3" fill="#2a6d93" stroke="#2a6d93" stroke-width="0.2">0</text>
<line x1="298" y1="582.00" x2="295" y2="582.00" stroke="#7fa3bd" stroke-width="0.9"/>
<text x="301.70" y="586.40" font-size="14.3" fill="#2a6d93" stroke="#2a6d93" stroke-width="0.2">600</text>
<line x1="298" y1="541.50" x2="295" y2="541.50" stroke="#7fa3bd" stroke-width="0.9"/>
<text x="301.70" y="545.90" font-size="14.3" fill="#2a6d93" stroke="#2a6d93" stroke-width="0.2">1200</text>
<line x1="298" y1="501.00" x2="295" y2="501.00" stroke="#7fa3bd" stroke-width="0.9"/>
<text x="301.70" y="505.40" font-size="14.3" fill="#2a6d93" stroke="#2a6d93" stroke-width="0.2">1800</text>
<line x1="298" y1="460.50" x2="295" y2="460.50" stroke="#7fa3bd" stroke-width="0.9"/>
<text x="301.70" y="464.90" font-size="14.3" fill="#2a6d93" stroke="#2a6d93" stroke-width="0.2">2400</text>
<path d="M43.80,620.43 L44.65,620.15 L45.50,619.82 L46.35,619.43 L47.20,619.00 L48.05,618.52 L48.90,618.05 L49.75,617.60 L50.60,617.15 L51.45,616.71 L52.30,616.28 L53.15,615.86 L54.00,615.43 L54.85,615.01 L55.70,614.59 L56.55,614.17 L57.40,613.75 L58.25,613.32 L59.10,612.89 L59.95,612.45 L60.80,611.99 L61.65,611.52 L62.50,611.03 L63.35,610.51 L64.20,609.97 L65.05,609.41 L65.90,608.83 L66.75,608.23 L67.60,607.62 L68.45,607.00 L69.31,606.37 L70.16,605.74 L71.01,605.10 L71.86,604.44 L72.71,603.77 L73.56,603.09 L74.41,602.39 L75.26,601.67 L76.11,600.92 L76.96,600.16 L77.81,599.37 L78.66,598.55 L79.51,597.68 L80.36,596.79 L81.21,595.87 L82.06,594.93 L82.91,593.97 L83.76,592.99 L84.61,591.98 L85.46,590.96 L86.31,589.91 L87.16,588.85 L88.01,587.78 L88.86,586.68 L89.71,585.56 L90.56,584.43 L91.41,583.27 L92.26,582.10 L93.11,580.92 L93.96,579.71 L94.81,578.47 L95.66,577.19 L96.51,575.90 L97.36,574.58 L98.21,573.24 L99.06,571.87 L99.91,570.47 L100.76,569.04 L101.61,567.61 L102.46,566.18 L103.31,564.75 L104.16,563.31 L105.01,561.84 L105.86,560.35 L106.71,558.84 L107.56,557.29 L108.41,555.72 L109.26,554.12 L110.11,552.50 L110.96,550.85 L111.81,549.18 L112.66,547.49 L113.51,545.78 L114.36,544.08 L115.21,542.39 L116.06,540.70 L116.91,539.02 L117.76,537.34 L118.61,535.65 L119.46,533.97 L120.32,532.26 L121.17,530.52 L122.02,528.75 L122.87,526.94 L123.72,525.08 L124.57,523.17 L125.42,521.20 L126.27,519.21 L127.12,517.22 L127.97,515.25 L128.82,513.32 L129.67,511.45 L130.52,509.65 L131.37,507.93 L132.22,506.33 L133.07,504.83 L133.92,503.44 L134.77,502.12 L135.62,500.89 L136.47,499.74 L137.32,498.66 L138.17,497.65 L139.02,496.70 L139.87,495.81 L140.72,494.98 L141.57,494.20 L142.42,493.47 L143.27,492.78 L144.12,492.13 L144.97,491.51 L145.82,490.93 L146.67,490.41 L147.52,489.93 L148.37,489.50 L149.22,489.12 L150.07,488.79 L150.92,488.51 L151.77,488.28 L152.62,488.10 L153.47,487.96 L154.32,487.85 L155.17,487.76 L156.02,487.69 L156.87,487.64 L157.72,487.60 L158.57,487.57 L159.42,487.55 L160.27,487.53 L161.12,487.52 L161.97,487.51 L162.82,487.51 L163.67,487.50 L164.52,487.50 L165.37,487.50 L166.22,487.50 L167.07,487.50 L167.92,487.50 L168.77,487.50 L169.62,487.50 L170.47,487.50 L171.33,487.50 L172.18,487.50 L173.03,487.50 L173.88,487.50 L174.73,487.50 L175.58,487.50 L176.43,487.50 L177.28,487.50 L178.13,487.50 L178.98,487.50 L179.83,487.50 L180.68,487.50 L181.53,487.50 L182.38,487.50 L183.23,487.50 L184.08,487.50 L184.93,487.50 L185.78,487.50 L186.63,487.50 L187.48,487.50 L188.33,487.50 L189.18,487.50 L190.03,487.50 L190.88,487.50 L191.73,487.50 L192.58,487.50 L193.43,487.50 L194.28,487.50 L195.13,487.50 L195.98,487.50 L196.83,487.50 L197.68,487.50 L198.53,487.50 L199.38,487.50 L200.23,487.50 L201.08,487.50 L201.93,487.50 L202.78,487.50 L203.63,487.50 L204.48,487.50 L205.33,487.50 L206.18,487.50 L207.03,487.50 L207.88,487.50 L208.73,487.50 L209.58,487.50 L210.43,487.50 L211.28,487.50 L212.13,487.50 L212.98,487.50 L213.83,487.50 L214.68,487.50 L215.53,487.50 L216.38,487.50 L217.23,487.50 L218.08,487.50 L218.93,487.50 L219.78,487.50 L220.63,487.50 L221.48,487.50 L222.34,487.50 L223.19,487.50 L224.04,487.50 L224.89,487.50 L225.74,487.50 L226.59,487.50 L227.44,487.50 L228.29,487.50 L229.14,487.50 L229.99,487.50 L230.84,487.50 L231.69,487.50 L232.54,487.50 L233.39,487.50 L234.24,487.50 L235.09,487.50 L235.94,487.50 L236.79,487.50 L237.64,487.50 L238.49,487.50 L239.34,487.50 L240.19,487.50 L241.04,487.50 L241.89,487.50 L242.74,487.50 L243.59,487.50 L244.44,487.50 L245.29,487.50 L246.14,487.50 L246.99,487.50 L247.84,487.50 L248.69,487.50 L249.54,487.50 L250.39,487.50 L251.24,487.50 L252.09,487.50 L252.94,487.50 L253.79,487.50 L254.64,487.50 L255.49,487.50 L256.34,487.50 L257.19,487.50 L258.04,487.50 L258.89,487.50 L259.74,487.50 L260.59,487.50 L261.44,487.50 L262.29,487.50 L263.14,487.50 L263.99,487.50 L264.84,487.50 L265.69,487.50 L266.54,487.50 L267.39,487.50 L268.24,487.50 L269.09,487.50 L269.94,487.50 L270.79,487.50 L271.64,487.50 L272.49,487.50 L273.35,487.50 L274.20,487.50 L275.05,487.50 L275.90,487.50 L276.75,487.50 L277.60,487.50 L278.45,487.50 L279.30,487.50 L280.15,487.50 L281.00,487.50 L281.85,487.50 L282.70,487.50 L283.55,487.50 L284.40,487.50 L285.25,487.50 L286.10,487.50 L286.95,487.50 L287.80,487.50 L288.65,487.50 L289.50,487.50 L290.35,487.50 L291.20,487.50 L292.05,487.50 L292.90,487.50 L293.75,487.50 L294.60,487.50 L295.45,487.50 L296.30,487.50 L297.15,487.50 L298.00,487.50" fill="none" stroke="#337693" stroke-width="1.2"/>
<path d="M43.80,478.45 L44.65,479.88 L45.50,481.44 L46.35,483.13 L47.20,484.93 L48.05,486.82 L48.90,488.22 L49.75,489.34 L50.60,490.33 L51.45,491.23 L52.30,492.05 L53.15,492.76 L54.00,493.39 L54.85,493.95 L55.70,494.43 L56.55,494.84 L57.40,495.17 L58.25,495.44 L59.10,495.64 L59.95,495.80 L60.80,495.91 L61.65,495.99 L62.50,496.04 L63.35,496.07 L64.20,496.08 L65.05,496.10 L65.90,496.11 L66.75,496.12 L67.60,496.13 L68.45,496.14 L69.31,496.15 L70.16,496.16 L71.01,496.17 L71.86,496.17 L72.71,496.18 L73.56,496.18 L74.41,496.19 L75.26,496.19 L76.11,496.19 L76.96,496.20 L77.81,496.20 L78.66,496.20 L79.51,496.20 L80.36,496.20 L81.21,496.20 L82.06,496.20 L82.91,496.20 L83.76,496.20 L84.61,496.20 L85.46,496.20 L86.31,496.20 L87.16,496.20 L88.01,496.20 L88.86,496.20 L89.71,496.20 L90.56,496.20 L91.41,496.20 L92.26,496.20 L93.11,496.20 L93.96,496.20 L94.81,496.20 L95.66,496.20 L96.51,496.20 L97.36,496.20 L98.21,496.20 L99.06,496.20 L99.91,496.20 L100.76,496.20 L101.61,496.20 L102.46,496.20 L103.31,496.20 L104.16,496.21 L105.01,496.22 L105.86,496.24 L106.71,496.27 L107.56,496.30 L108.41,496.34 L109.26,496.40 L110.11,496.48 L110.96,496.58 L111.81,496.71 L112.66,496.86 L113.51,497.04 L114.36,497.25 L115.21,497.50 L116.06,497.81 L116.91,498.16 L117.76,498.57 L118.61,499.02 L119.46,499.52 L120.32,500.07 L121.17,500.66 L122.02,501.29 L122.87,501.96 L123.72,502.67 L124.57,503.39 L125.42,504.14 L126.27,504.91 L127.12,505.69 L127.97,506.51 L128.82,507.35 L129.67,508.22 L130.52,509.12 L131.37,510.08 L132.22,511.10 L133.07,512.18 L133.92,513.34 L134.77,514.57 L135.62,515.88 L136.47,517.27 L137.32,518.73 L138.17,520.24 L139.02,521.79 L139.87,523.37 L140.72,524.98 L141.57,526.61 L142.42,528.25 L143.27,529.92 L144.12,531.59 L144.97,533.28 L145.82,534.97 L146.67,536.68 L147.52,538.41 L148.37,540.14 L149.22,541.89 L150.07,543.63 L150.92,545.37 L151.77,547.10 L152.62,548.80 L153.47,550.48 L154.32,552.14 L155.17,553.76 L156.02,555.34 L156.87,556.88 L157.72,558.38 L158.57,559.84 L159.42,561.25 L160.27,562.62 L161.12,563.94 L161.97,565.21 L162.82,566.43 L163.67,567.59 L164.52,568.70 L165.37,569.75 L166.22,570.76 L167.07,571.73 L167.92,572.65 L168.77,573.54 L169.62,574.40 L170.47,575.22 L171.33,576.02 L172.18,576.79 L173.03,577.52 L173.88,578.23 L174.73,578.91 L175.58,579.57 L176.43,580.20 L177.28,580.81 L178.13,581.40 L178.98,581.97 L179.83,582.53 L180.68,583.07 L181.53,583.60 L182.38,584.12 L183.23,584.63 L184.08,585.13 L184.93,585.63 L185.78,586.12 L186.63,586.62 L187.48,587.11 L188.33,587.60 L189.18,588.08 L190.03,588.57 L190.88,589.06 L191.73,589.54 L192.58,590.02 L193.43,590.50 L194.28,590.97 L195.13,591.43 L195.98,591.90 L196.83,592.35 L197.68,592.80 L198.53,593.24 L199.38,593.67 L200.23,594.10 L201.08,594.51 L201.93,594.91 L202.78,595.31 L203.63,595.69 L204.48,596.06 L205.33,596.42 L206.18,596.76 L207.03,597.10 L207.88,597.43 L208.73,597.74 L209.58,598.05 L210.43,598.35 L211.28,598.64 L212.13,598.93 L212.98,599.21 L213.83,599.48 L214.68,599.75 L215.53,600.01 L216.38,600.27 L217.23,600.52 L218.08,600.77 L218.93,601.01 L219.78,601.24 L220.63,601.47 L221.48,601.70 L222.34,601.92 L223.19,602.14 L224.04,602.36 L224.89,602.57 L225.74,602.77 L226.59,602.98 L227.44,603.18 L228.29,603.37 L229.14,603.57 L229.99,603.76 L230.84,603.94 L231.69,604.13 L232.54,604.31 L233.39,604.49 L234.24,604.66 L235.09,604.83 L235.94,605.00 L236.79,605.17 L237.64,605.33 L238.49,605.49 L239.34,605.64 L240.19,605.79 L241.04,605.94 L241.89,606.09 L242.74,606.23 L243.59,606.38 L244.44,606.51 L245.29,606.65 L246.14,606.78 L246.99,606.91 L247.84,607.04 L248.69,607.16 L249.54,607.28 L250.39,607.40 L251.24,607.52 L252.09,607.64 L252.94,607.75 L253.79,607.87 L254.64,607.98 L255.49,608.09 L256.34,608.19 L257.19,608.30 L258.04,608.41 L258.89,608.51 L259.74,608.61 L260.59,608.71 L261.44,608.82 L262.29,608.92 L263.14,609.01 L263.99,609.11 L264.84,609.21 L265.69,609.31 L266.54,609.41 L267.39,609.50 L268.24,609.60 L269.09,609.69 L269.94,609.79 L270.79,609.88 L271.64,609.98 L272.49,610.07 L273.35,610.16 L274.20,610.25 L275.05,610.35 L275.90,610.44 L276.75,610.53 L277.60,610.62 L278.45,610.70 L279.30,610.79 L280.15,610.88 L281.00,610.96 L281.85,611.05 L282.70,611.13 L283.55,611.22 L284.40,611.30 L285.25,611.38 L286.10,611.46 L286.95,611.54 L287.80,611.62 L288.65,611.70 L289.50,611.78 L290.35,611.86 L291.20,611.93 L292.05,612.01 L292.90,612.08 L293.75,612.15 L294.60,612.22 L295.45,612.28 L296.30,612.34 L297.15,612.39 L298.00,612.42" fill="none" stroke="#d6667e" stroke-width="1.4" stroke-dasharray="1.9 2"/>
<circle cx="230.7" cy="526.4" r="33.3" fill="none" stroke="#8f8f8f" stroke-width="0.75" stroke-dasharray="4.2 1.5 0.9 1.5"/>
<line x1="207.15" y1="549.95" x2="254.25" y2="502.85" stroke="#9a9a9a" stroke-width="0.6"/>
<line x1="230.7" y1="526.4" x2="230.7" y2="599.2" stroke="#777" stroke-width="2.6"/>
<line x1="230.7" y1="526.4" x2="230.7" y2="599.2" stroke="#333" stroke-width="2.10" stroke-dasharray="2.2 1.4 1.2 1.1 2.8 1.5 1.5 1.2" stroke-dashoffset="0"/>
<line x1="231.25" y1="526.4" x2="231.25" y2="599.2" stroke="#b0b0b0" stroke-width="0.7" stroke-dasharray="0.9 3.4 0.7 2.9 1 4.1" stroke-dashoffset="1.3"/>
<line x1="230.10" y1="526.4" x2="230.10" y2="599.2" stroke="#a0a0a0" stroke-width="0.6" stroke-dasharray="0.8 4.3 0.7 3.1" stroke-dashoffset="3.1"/>
<path d="M226.39999999999998,599.7 L235.0,599.7" stroke="#555" stroke-width="1"/>
<path d="M228.1,598.5 L233.29999999999998,598.5" stroke="#888" stroke-width="0.8"/>
<line x1="230.7" y1="526.4" x2="230.70" y2="493.77" stroke="#3a3a3a" stroke-width="1.0" stroke-linecap="round"/>
<line x1="230.7" y1="526.4" x2="202.44" y2="542.72" stroke="#3a3a3a" stroke-width="1.0" stroke-linecap="round"/>
<line x1="230.7" y1="526.4" x2="258.96" y2="542.72" stroke="#3a3a3a" stroke-width="1.0" stroke-linecap="round"/>
<text transform="translate(246.33,509.64) rotate(-45)" text-anchor="middle" font-size="8" fill="#1a1a1a">120 m</text>
<line x1="256.4" y1="493.09999999999997" x2="282.4" y2="493.09999999999997" stroke="#8a8a8a" stroke-width="0.8"/>
<line x1="275" y1="493.09999999999997" x2="275" y2="526.4" stroke="#c4c4c4" stroke-width="0.6"/>
<circle cx="275" cy="493.9" r="0.7" fill="#222"/>
<line x1="279.4" y1="493.09999999999997" x2="279.4" y2="526.4" stroke="#6a6a6a" stroke-width="1.1"/>
<line x1="279.4" y1="493.09999999999997" x2="279.4" y2="526.4" stroke="#222" stroke-width="0.9" stroke-dasharray="0.9 2.3 1.3 1.8"/>
<line x1="279.7" y1="526.4" x2="275.9" y2="543.05" stroke="#333" stroke-width="1"/>
<line x1="277.9" y1="526.4" x2="284.9" y2="526.4" stroke="#111" stroke-width="1.8"/>
<line x1="280.9" y1="527.4" x2="280.9" y2="599.2" stroke="#777" stroke-width="2.6"/>
<line x1="280.9" y1="527.4" x2="280.9" y2="599.2" stroke="#333" stroke-width="2.10" stroke-dasharray="2.2 1.4 1.2 1.1 2.8 1.5 1.5 1.2" stroke-dashoffset="2.2"/>
<line x1="281.45" y1="527.4" x2="281.45" y2="599.2" stroke="#b0b0b0" stroke-width="0.7" stroke-dasharray="0.9 3.4 0.7 2.9 1 4.1" stroke-dashoffset="3.5"/>
<line x1="280.30" y1="527.4" x2="280.30" y2="599.2" stroke="#a0a0a0" stroke-width="0.6" stroke-dasharray="0.8 4.3 0.7 3.1" stroke-dashoffset="5.300000000000001"/>
<path d="M276.4,599.7 L285.4,599.7" stroke="#555" stroke-width="1"/>
<path d="M278.29999999999995,598.5 L283.5,598.5" stroke="#888" stroke-width="0.8"/>
<line x1="272.6" y1="527.4" x2="272.6" y2="599.2" stroke="#c8c8c8" stroke-width="0.7"/>
<circle cx="273.1" cy="526.9" r="0.6" fill="#222"/>
<circle cx="272.6" cy="599.2" r="0.6" fill="#222"/>
<text transform="translate(270,562.9) rotate(-90)" text-anchor="middle" font-size="8.5" fill="#111" stroke="#111" stroke-width="0.2">90 m</text>
<line x1="43.8" y1="460.5" x2="298" y2="460.5" stroke="#626262" stroke-width="1.4"/>
<line x1="43.8" y1="622.5" x2="298" y2="622.5" stroke="#999" stroke-width="1"/>
<line x1="43.8" y1="460.5" x2="43.8" y2="622.5" stroke="#d68e9e" stroke-width="1"/>
<line x1="298" y1="460.5" x2="298" y2="622.5" stroke="#7fa3bd" stroke-width="1"/>
<line x1="61.4" y1="472.3" x2="83.9" y2="472.3" stroke="#d6667e" stroke-width="1.4" stroke-dasharray="1.9 2"/>
<text x="90" y="476.5" font-size="10.9" fill="#111" stroke="#111" stroke-width="0.05">Thrust coefficient</text>
<text x="169.5" y="476.5" font-size="11.77" fill="#111" font-style="italic">C</text>
<text x="176.69" y="479.2" font-size="7.85" fill="#111" font-style="italic">T</text>
<line x1="190.7" y1="472.3" x2="214.2" y2="472.3" stroke="#337693" stroke-width="1.3"/>
<text x="217.9" y="476.5" font-size="10.9" fill="#111" stroke="#111" stroke-width="0.05">Power output <tspan font-style="italic">P</tspan></text>
<text transform="translate(11.7,541.5) rotate(-90)" font-size="16" fill="#c65262" stroke="#c65262" stroke-width="0.2" font-style="italic">C<tspan font-size="10.08" dy="3.6">T</tspan></text>
<text transform="translate(346.9,571) rotate(-90)" font-size="15" fill="#2a6d93" stroke="#2a6d93" stroke-width="0.2" textLength="64.4" lengthAdjust="spacing">Power/kW</text>
<text x="117.6" y="655.2" font-size="15.5" fill="#111" stroke="#111" stroke-width="0.2">Wind speed/m·s<tspan font-size="8.99" dy="-5.3">-1</tspan></text>
</svg>
</body></html>
